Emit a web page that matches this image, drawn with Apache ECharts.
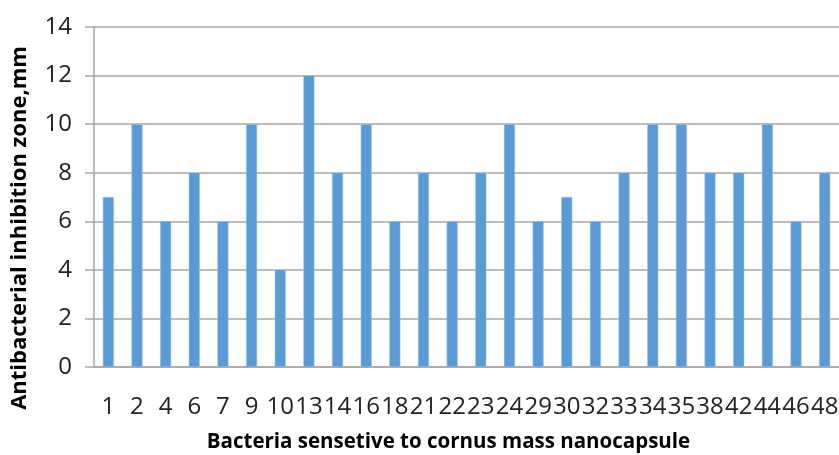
<!DOCTYPE html>
<html>
<head>
<meta charset="utf-8">
<script src="https://cdn.jsdelivr.net/npm/echarts@6/dist/echarts.min.js"></script>
<style>html,body{margin:0;padding:0;background:#fff;}#c{width:839px;height:455px;}</style>
</head>
<body>
<div id="c"></div>
<script>
var categories = ['1','2','4','6','7','9','10','13','14','16','18','21','22','23','24','29','30','32','33','34','35','38','42','44','46','48'];
var values = [7,10,6,8,6,10,4,12,8,10,6,8,6,8,10,6,7,6,8,10,10,8,8,10,6,8];
var yTicks = [0,2,4,6,8,10,12,14];
var xTitle = 'Bacteria sensetive to cornus mass nanocapsule';
var yTitle = 'Antibacterial inhibition zone,mm';

var chart = echarts.init(document.getElementById('c'), null, {renderer:'canvas'});
var font = '"Open Sans", sans-serif';
chart.setOption({
  animation: false,
  backgroundColor: '#fff',
  grid: {left: 94, top: 27, width: 745, height: 340, containLabel: false, outerBoundsMode: 'none'},
  xAxis: {
    type: 'category',
    data: categories,
    name: xTitle,
    nameLocation: 'middle',
    nameGap: 65,
    nameTextStyle: {fontFamily: font, fontSize: 20.5, fontWeight: 'bold', color: '#000', padding: [0, 36, 0, 0]},
    axisLine: {show: true, lineStyle: {color: '#a6a6a6', width: 1.5}},
    axisTick: {show: false},
    axisLabel: {interval: 0, fontFamily: font, fontSize: 24, color: '#222', margin: 28, hideOverlap: false}
  },
  yAxis: {
    type: 'value',
    min: 0, max: 14, interval: 2,
    name: yTitle,
    nameLocation: 'middle',
    nameGap: 63,
    nameRotate: 90,
    nameTextStyle: {fontFamily: font, fontSize: 22, fontWeight: 'bold', color: '#000', padding: [0, 62, 0, 0]},
    axisLine: {show: true, lineStyle: {color: '#a6a6a6', width: 1.5}},
    axisTick: {show: true, inside: false, length: 9, lineStyle: {color: '#a6a6a6', width: 1.5}},
    axisLabel: {fontFamily: font, fontSize: 24, color: '#222', margin: 22,
      formatter: function (v) { return yTicks.indexOf(v) >= 0 ? String(v) : ''; }},
    splitLine: {show: true, lineStyle: {color: '#a6a6a6', width: 1.5}}
  },
  series: [{
    type: 'bar',
    data: values,
    barWidth: 11,
    itemStyle: {color: '#5b9bd5', borderColor: '#9dc3e6', borderWidth: 0.5}
  }]
});
</script>
</body>
</html>
